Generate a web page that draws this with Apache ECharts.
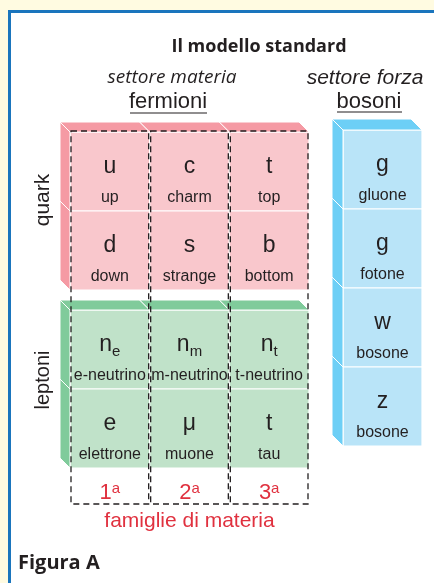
<!DOCTYPE html>
<html>
<head>
<meta charset="utf-8">
<script src="https://cdn.jsdelivr.net/npm/echarts@6/dist/echarts.min.js"></script>
<style>
  html, body { margin: 0; padding: 0; background: #fffbe1; }
  #chart { width: 434px; height: 583px; }
</style>
</head>
<body>
<div id="chart"></div>
<script>
// colonne = famiglie di materia
var families = ['1', '2', '3'];
var ordinal = 'a';

// quark: prima riga poi seconda riga
var quarkSymbols = ['u', 'c', 't', 'd', 's', 'b'];
var quarkNames = ['up', 'charm', 'top', 'down', 'strange', 'bottom'];

// leptoni ("_" = pedice)
var leptonSymbols = ['n_e', 'n_m', 'n_t', 'e', 'μ', 't'];
var leptonNames = ['e-neutrino', 'm-neutrino', 't-neutrino', 'elettrone', 'muone', 'tau'];

// bosoni
var bosonSymbols = ['g', 'g', 'w', 'z'];
var bosonNames = ['gluone', 'fotone', 'bosone', 'bosone'];

var FONT = '"Liberation Sans", Arial, sans-serif';
var INK = '#231f20';
var RED = '#e0313f';

function toCells(symbols, names, cols) {
  var out = [];
  for (var i = 0; i < symbols.length; i++) {
    out.push([i % cols, Math.floor(i / cols), symbols[i], names[i]]);
  }
  return out;
}

function symbolRich(s) {
  var p = s.split('_');
  return p.length > 1 ? '{m|' + p[0] + '}{s|' + p[1] + '}' : '{m|' + s + '}';
}

function cellRenderer(colors, d) {
  return function (params, api) {
    var col = api.value(0), row = api.value(1);
    var c = api.coord([col, row]);
    var s = api.size([1, 1]);
    var w = s[0], h = s[1];
    var x = c[0] - w / 2, y = c[1] - h / 2;
    var children = [];
    children.push({
      type: 'rect',
      shape: { x: x, y: y, width: w, height: h },
      style: { fill: colors.front, stroke: '#fff', lineWidth: 1.2 }
    });
    if (row === 0) {
      children.push({
        type: 'polygon',
        shape: { points: [[x, y], [x + w, y], [x + w - d, y - d], [x - d, y - d]] },
        style: { fill: colors.side, stroke: '#fff', lineWidth: 1 }
      });
    }
    if (col === 0) {
      children.push({
        type: 'polygon',
        shape: { points: [[x, y], [x, y + h], [x - d, y + h - d], [x - d, y - d]] },
        style: { fill: colors.side, stroke: '#fff', lineWidth: 1 }
      });
    }
    children.push({
      type: 'text',
      x: c[0], y: y + 26,
      style: {
        text: symbolRich(api.value(2)),
        align: 'center', verticalAlign: 'top',
        fill: INK,
        rich: {
          m: { fontSize: 23, fontFamily: FONT, lineHeight: 23, padding: [0, 0, 6, 0], fill: INK },
          s: { fontSize: 15, fontFamily: FONT, lineHeight: 16, verticalAlign: 'bottom', fill: INK }
        }
      }
    });
    children.push({
      type: 'text',
      x: c[0], y: y + 66,
      style: {
        text: api.value(3),
        align: 'center', verticalAlign: 'middle',
        fill: INK, fontSize: 16, fontFamily: FONT
      }
    });
    return { type: 'group', children: children };
  };
}

function hiddenCat(data, grid, inverse) {
  return {
    type: 'category', gridIndex: grid, data: data, inverse: !!inverse,
    axisLine: { show: false }, axisTick: { show: false },
    axisLabel: { show: false }, splitLine: { show: false }
  };
}

var chart = echarts.init(document.getElementById('chart'));

var option = {
  backgroundColor: '#fffbe1',
  animation: false,
  grid: [
    { left: 70, top: 132, width: 239, height: 158 },   // quark
    { left: 70, top: 310, width: 239, height: 158 },   // leptoni
    { left: 343, top: 130, width: 79, height: 316 },   // bosoni
    { left: 70, top: 131, width: 239, height: 373 }    // famiglie
  ],
  xAxis: [
    hiddenCat(families, 0),
    hiddenCat(families, 1),
    hiddenCat(['forza'], 2),
    {
      type: 'category', gridIndex: 3, data: families, position: 'bottom',
      axisLine: { show: false }, axisTick: { show: false }, splitLine: { show: false },
      axisLabel: {
        inside: true, margin: 0,
        formatter: function (v) { return '{n|' + v + '}{s|' + ordinal + '}'; },
        rich: {
          n: { fontSize: 22, fontFamily: FONT, color: RED, lineHeight: 22 },
          s: { fontSize: 15, fontFamily: FONT, color: RED, lineHeight: 15, padding: [0, 0, 8, 0] }
        }
      },
      name: 'famiglie di materia', nameLocation: 'middle', nameGap: 7,
      nameTextStyle: { color: RED, fontSize: 21, fontFamily: FONT, verticalAlign: 'top' }
    }
  ],
  yAxis: [
    hiddenCat(['r1', 'r2'], 0, true),
    hiddenCat(['r1', 'r2'], 1, true),
    hiddenCat(['r1', 'r2', 'r3', 'r4'], 2, true),
    { type: 'value', gridIndex: 3, min: 0, max: 1, show: false, splitLine: { show: false } }
  ],
  series: [
    {
      type: 'custom', xAxisIndex: 0, yAxisIndex: 0,
      renderItem: cellRenderer({ front: '#f9c7cc', side: '#f59aa4' }, 10),
      data: toCells(quarkSymbols, quarkNames, 3)
    },
    {
      type: 'custom', xAxisIndex: 1, yAxisIndex: 1,
      renderItem: cellRenderer({ front: '#c0e2c9', side: '#80cb9b' }, 10),
      data: toCells(leptonSymbols, leptonNames, 3)
    },
    {
      type: 'custom', xAxisIndex: 2, yAxisIndex: 2,
      renderItem: cellRenderer({ front: '#b9e4f8', side: '#6dcff6' }, 11),
      data: toCells(bosonSymbols, bosonNames, 1)
    },
    {
      type: 'custom', xAxisIndex: 3, yAxisIndex: 3, z: 5,
      renderItem: function (params, api) {
        var col = api.value(0);
        var top = api.coord([col, 1]);
        var bottom = api.coord([col, 0]);
        var w = api.size([1, 0])[0];
        return {
          type: 'rect',
          shape: { x: top[0] - w / 2 + 1, y: top[1], width: w - 2, height: bottom[1] - top[1] },
          style: { fill: null, stroke: INK, lineWidth: 1.3, lineDash: [6, 4] }
        };
      },
      data: families.map(function (f, i) { return [i]; })
    }
  ],
  graphic: [
    { type: 'rect', z: 0, shape: { x: 9.5, y: 11.5, width: 440, height: 600 },
      style: { fill: '#fff', stroke: '#1a75bd', lineWidth: 3 } },
    { type: 'text', z: 10, x: 259, y: 47,
      style: { text: 'Il modello standard', align: 'center', verticalAlign: 'middle',
        font: 'bold 18px "Open Sans", sans-serif', fill: INK } },
    { type: 'text', z: 10, x: 172, y: 78,
      style: { text: 'settore materia', align: 'center', verticalAlign: 'middle',
        font: 'italic 19px "Open Sans", sans-serif', fill: INK } },
    { type: 'text', z: 10, x: 168, y: 102,
      style: { text: 'fermioni', align: 'center', verticalAlign: 'middle',
        font: '22px ' + FONT, fill: INK } },
    { type: 'text', z: 10, x: 365, y: 78,
      style: { text: 'settore forza', align: 'center', verticalAlign: 'middle',
        font: 'italic 21px ' + FONT, fill: INK } },
    { type: 'text', z: 10, x: 369, y: 102,
      style: { text: 'bosoni', align: 'center', verticalAlign: 'middle',
        font: '22px ' + FONT, fill: INK } },
    { type: 'line', z: 10, shape: { x1: 130, y1: 113, x2: 207, y2: 113 },
      style: { stroke: INK, lineWidth: 1.2 } },
    { type: 'line', z: 10, shape: { x1: 337, y1: 112, x2: 402, y2: 112 },
      style: { stroke: INK, lineWidth: 1.2 } },
    { type: 'text', z: 10, x: 43, y: 200, rotation: Math.PI / 2,
      style: { text: 'quark', align: 'center', verticalAlign: 'middle',
        font: '21px ' + FONT, fill: INK } },
    { type: 'text', z: 10, x: 43, y: 380, rotation: Math.PI / 2,
      style: { text: 'leptoni', align: 'center', verticalAlign: 'middle',
        font: '20px ' + FONT, fill: INK } },
    { type: 'text', z: 10, x: 18, y: 563,
      style: { text: 'Figura A', align: 'left', verticalAlign: 'middle',
        font: 'bold 20px "Open Sans", sans-serif', fill: INK } }
  ]
};

chart.setOption(option);
</script>
</body>
</html>
